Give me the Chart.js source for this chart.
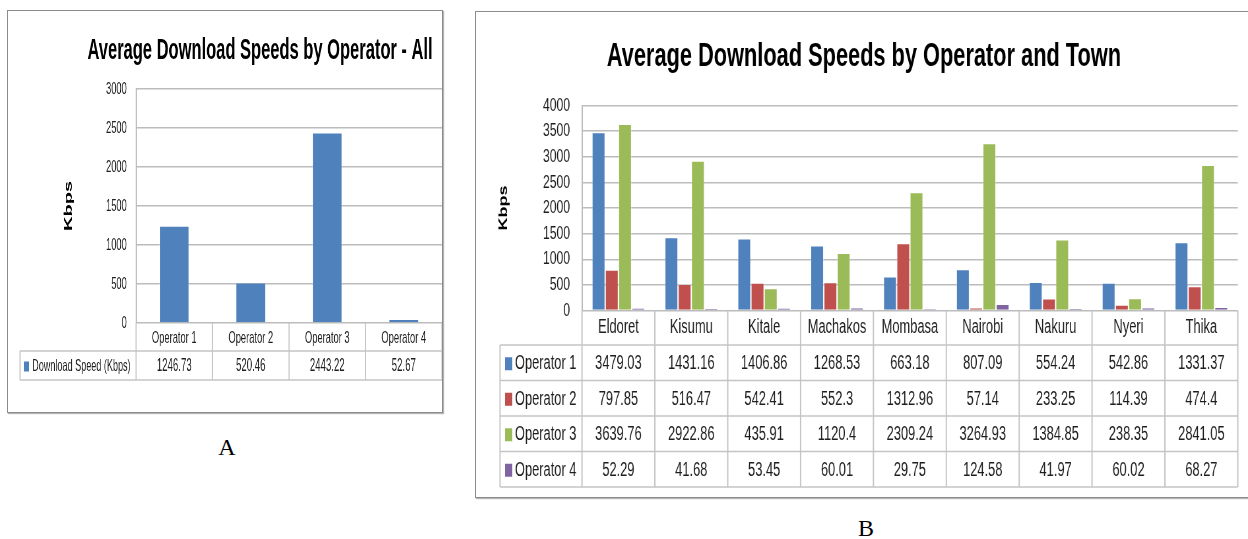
<!DOCTYPE html>
<html>
<head>
<meta charset="utf-8">
<script src="https://cdn.jsdelivr.net/npm/chart.js@4.4.1/dist/chart.umd.min.js"></script>
<style>
  html, body { margin: 0; padding: 0; background: #fff; }
  body { position: relative; width: 1248px; height: 539px; overflow: hidden; }
  .panel { position: absolute; border: 1px solid #8c8c8c; box-shadow: 1px 1px 1px #b4b4b4; background: #fff; overflow: hidden; }
  #panelA { left: 7px; top: 10px; width: 434px; height: 401px; }
  #panelB { left: 475px; top: 11px; width: 790px; height: 485px; }
  .panel canvas { display: block; }
  .caption { position: absolute; width: 40px; text-align: center; line-height: 28px;
             font-family: "Liberation Serif", "DejaVu Serif", serif; font-size: 24px; color: #000; }
</style>
</head>
<body>
<div class="panel" id="panelA">
  <canvas id="chartA" width="789" height="401" style="width:434px;height:401px"></canvas>
</div>
<div class="panel" id="panelB">
  <canvas id="chartB" width="1170" height="485" style="width:772px;height:485px"></canvas>
</div>
<div class="caption" style="left:207px;top:433px">A</div>
<div class="caption" style="left:846px;top:514px">B</div>

<script>
// ---- data ----
const operators = ['Operator 1', 'Operator 2', 'Operator 3', 'Operator 4'];
const overallSpeed = [1246.73, 520.46, 2443.22, 52.67];
const overallLabel = 'Download Speed (Kbps)';

const towns = ['Eldoret', 'Kisumu', 'Kitale', 'Machakos', 'Mombasa', 'Nairobi', 'Nakuru', 'Nyeri', 'Thika'];
const op1Speed = [3479.03, 1431.16, 1406.86, 1268.53, 663.18, 807.09, 554.24, 542.86, 1331.37];
const op2Speed = [797.85, 516.47, 542.41, 552.3, 1312.96, 57.14, 233.25, 114.39, 474.4];
const op3Speed = [3639.76, 2922.86, 435.91, 1120.4, 2309.24, 3264.93, 1384.85, 238.35, 2841.05];
const op4Speed = [52.29, 41.68, 53.45, 60.01, 29.75, 124.58, 41.97, 60.02, 68.27];

const kbpsTicksA = [0, 500, 1000, 1500, 2000, 2500, 3000];
const kbpsTicksB = [0, 500, 1000, 1500, 2000, 2500, 3000, 3500, 4000];

const titleA = 'Average Download Speeds by Operator - All';
const titleB = 'Average Download Speeds by Operator and Town';
const axisTitle = 'Kbps';

const operatorColors = ['#4F81BD', '#C0504D', '#9BBB59', '#8064A2'];

// ---- shared styling ----
const FONT = '"Liberation Sans", Arial, "DejaVu Sans", sans-serif';
const TEXT = '#1e1e1e';
const GRID = '#bcbcbc';
const TABLE_LINE = '#c4c4c4';
Chart.defaults.font.family = FONT;
Chart.defaults.color = TEXT;

// Data table under the category axis: one row per series, cells aligned to the x scale.
function dataTablePlugin(cfg) {
  return {
    id: 'dataTable',
    afterDraw(chart) {
      const { ctx, chartArea } = chart;
      const xs = chart.scales.x;
      const n = xs.ticks.length;
      const step = xs.getPixelForValue(1) - xs.getPixelForValue(0);
      const bounds = [];
      for (let i = 0; i <= n; i++) bounds.push(xs.getPixelForValue(0) - step / 2 + i * step);
      const axisY = chartArea.bottom;
      const headBottom = xs.bottom;
      const tableBottom = headBottom + cfg.rows.length * cfg.rowH;
      const right = bounds[n];

      ctx.save();
      ctx.strokeStyle = TABLE_LINE;
      // horizontal rules
      ctx.lineWidth = 1.5;
      for (let r = 0; r <= cfg.rows.length; r++) {
        const y = headBottom + r * cfg.rowH;
        ctx.beginPath(); ctx.moveTo(cfg.left, y); ctx.lineTo(right, y); ctx.stroke();
      }
      // vertical rules
      ctx.lineWidth = 2;
      ctx.beginPath(); ctx.moveTo(cfg.left, headBottom); ctx.lineTo(cfg.left, tableBottom); ctx.stroke();
      bounds.forEach((bx) => {
        ctx.beginPath(); ctx.moveTo(bx, axisY); ctx.lineTo(bx, tableBottom); ctx.stroke();
      });

      // cells
      ctx.textBaseline = 'middle';
      cfg.rows.forEach((row, r) => {
        const cy = headBottom + r * cfg.rowH + cfg.rowH / 2 + 1;
        ctx.fillStyle = row.color;
        ctx.fillRect(cfg.keyX, cy - cfg.keyH / 2, cfg.keyW, cfg.keyH);
        ctx.fillStyle = TEXT;
        ctx.font = cfg.labelFont;
        ctx.textAlign = 'left';
        ctx.fillText(row.label, cfg.textX, cy);
        ctx.font = cfg.valueFont;
        ctx.textAlign = 'center';
        row.values.forEach((v, i) => ctx.fillText(String(v), xs.getPixelForValue(i), cy));
      });
      ctx.restore();
    }
  };
}

function fixedTicks(list) {
  return (scale) => { scale.ticks = list.map((v) => ({ value: v })); };
}
const plainNumber = (v) => String(v);

// ---- chart A: overall average per operator ----
new Chart(document.getElementById('chartA'), {
  type: 'bar',
  data: {
    labels: operators,
    datasets: [{
      label: overallLabel,
      data: overallSpeed,
      backgroundColor: operatorColors[0],
      borderColor: 'rgba(255,255,255,0.35)',
      borderWidth: 1,
      categoryPercentage: 1,
      barPercentage: 0.39
    }]
  },
  options: {
    responsive: false,
    animation: false,
    devicePixelRatio: 1,
    layout: { padding: { left: 127.4, right: 0, top: 0, bottom: 61 } },
    plugins: {
      legend: { display: false },
      tooltip: { enabled: false },
      title: {
        display: true,
        text: titleA,
        color: '#000',
        font: { size: 30, weight: 'bold', lineHeight: 1.2 },
        padding: { top: 21.4, bottom: 20.6 }
      }
    },
    scales: {
      x: {
        offset: true,
        grid: { display: false, drawTicks: false, offset: true },
        border: { display: false },
        ticks: { font: { size: 17 }, padding: 5.5, color: TEXT, maxRotation: 0 },
        afterFit: (s) => { s.height = 28; }
      },
      y: {
        min: 0,
        max: 3000,
        afterBuildTicks: fixedTicks(kbpsTicksA),
        grid: { color: GRID, lineWidth: 1.5, drawTicks: false },
        border: { display: true, color: GRID, width: 2 },
        ticks: { font: { size: 17 }, padding: 16.7, color: TEXT, callback: plainNumber },
        title: {
          display: true,
          text: axisTitle,
          color: '#000',
          font: { size: 20, weight: 'bold', lineHeight: 1.2 },
          padding: { top: -29, bottom: 0 }
        },
        afterFit: (s) => { s.width = 105.3; }
      }
    }
  },
  plugins: [dataTablePlugin({
    left: 21.8, rowH: 29,
    keyX: 29, keyW: 9, keyH: 10, textX: 44,
    labelFont: '16.5px ' + FONT, valueFont: '17.5px ' + FONT,
    rows: [{ label: overallLabel, color: operatorColors[0], values: overallSpeed }]
  })]
});

// ---- chart B: average per operator and town ----
const townSeries = [op1Speed, op2Speed, op3Speed, op4Speed];
new Chart(document.getElementById('chartB'), {
  type: 'bar',
  data: {
    labels: towns,
    datasets: townSeries.map((vals, i) => ({
      label: operators[i],
      data: vals,
      backgroundColor: operatorColors[i],
      borderColor: 'rgba(255,255,255,0.35)',
      borderWidth: 1,
      categoryPercentage: 0.727,
      barPercentage: 1
    }))
  },
  options: {
    responsive: false,
    animation: false,
    devicePixelRatio: 1,
    layout: { padding: { left: 21.3, right: 15.5, top: 0, bottom: 152 } },
    plugins: {
      legend: { display: false },
      tooltip: { enabled: false },
      title: {
        display: true,
        text: titleB,
        color: '#000',
        font: { size: 33, weight: 'bold', lineHeight: 1.2 },
        padding: { top: 25.2, bottom: 28.8 }
      }
    },
    scales: {
      x: {
        offset: true,
        grid: { display: false, drawTicks: false, offset: true },
        border: { display: false },
        ticks: { font: { size: 19.5 }, padding: 5.3, color: TEXT, maxRotation: 0 },
        afterFit: (s) => { s.height = 34.5; }
      },
      y: {
        min: 0,
        max: 4000,
        afterBuildTicks: fixedTicks(kbpsTicksB),
        grid: { color: GRID, lineWidth: 1.5, drawTicks: false },
        border: { display: true, color: GRID, width: 2 },
        ticks: { font: { size: 18.5 }, padding: 18, color: TEXT, callback: plainNumber },
        title: {
          display: true,
          text: axisTitle,
          color: '#000',
          font: { size: 18, weight: 'bold', lineHeight: 1.2 },
          padding: { top: 9.6, bottom: 0 }
        },
        afterFit: (s) => { s.width = 139.3; }
      }
    }
  },
  plugins: [dataTablePlugin({
    left: 36.4, rowH: 35.5,
    keyX: 44, keyW: 11, keyH: 13, textX: 59,
    labelFont: '19.5px ' + FONT, valueFont: '19.5px ' + FONT,
    rows: operators.map((op, i) => ({ label: op, color: operatorColors[i], values: townSeries[i] }))
  })]
});
</script>
</body>
</html>
